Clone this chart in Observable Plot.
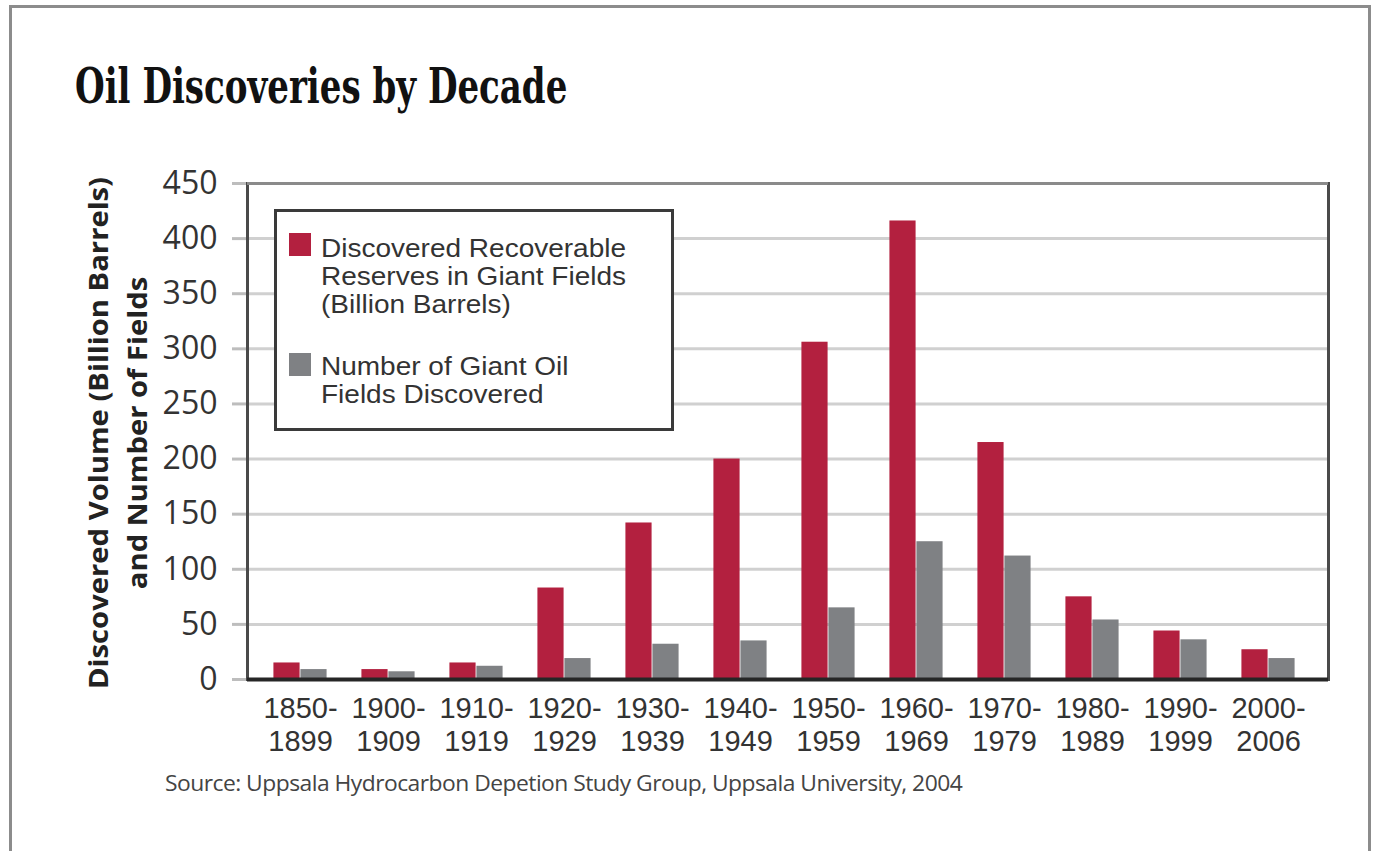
<!DOCTYPE html>
<html>
<head>
<meta charset="utf-8">
<script src="https://cdn.jsdelivr.net/npm/d3@7"></script>
<script src="https://cdn.jsdelivr.net/npm/@observablehq/plot@0.6"></script>
<style>
  html, body { margin: 0; padding: 0; background: #fff; overflow: hidden; }
  #page { position: relative; width: 1376px; height: 851px; overflow: hidden; background: #fff; }
  #border { position: absolute; left: 9px; top: 5px; width: 1362px; height: 900px; box-sizing: border-box; border: 3px solid #8c8c8c; }
  #title { position: absolute; left: 75px; top: 62px; white-space: nowrap; font-family: "DejaVu Serif Condensed", "DejaVu Serif", serif; font-weight: 700; font-stretch: condensed; font-size: 49px; line-height: 49px; color: #111; transform-origin: 0 0; }
  #chart { position: absolute; left: 0; top: 0; }
  #ytitle { position: absolute; left: 117px; top: 433px; white-space: nowrap; text-align: center; font-family: "Open Sans", sans-serif; font-weight: 700; font-size: 27px; line-height: 39px; color: #222; transform: translate(-50%, -50%) rotate(-90deg); }
  #legend { position: absolute; left: 274px; top: 209px; width: 400px; height: 222px; box-sizing: border-box; border: 3px solid #3a3a3a; background: #fff; }
  .sw { position: absolute; left: 12px; width: 22px; height: 23px; }
  .lt { position: absolute; left: 44px; white-space: nowrap; font-family: "Liberation Sans", Arial, sans-serif; font-size: 25px; line-height: 28px; color: #333; transform-origin: 0 0; }
  #caption { position: absolute; left: 165px; top: 771px; white-space: nowrap; font-family: "Open Sans", sans-serif; font-size: 22px; line-height: 22px; color: #444; letter-spacing: -0.5px; transform-origin: 0 0; }
</style>
</head>
<body>
<div id="page">
  <div id="border"></div>
  <div id="title"></div>
  <div id="chart"></div>
  <div id="ytitle"></div>
  <div id="legend"></div>
  <div id="caption"></div>
</div>
<script>
// ---------- data ----------
const decades = ["1850-1899", "1900-1909", "1910-1919", "1920-1929", "1930-1939", "1940-1949",
                 "1950-1959", "1960-1969", "1970-1979", "1980-1989", "1990-1999", "2000-2006"];
const reserves = [15, 9, 15, 83, 142, 200, 306, 416, 215, 75, 44, 27];   // billion barrels
const fields   = [9, 7, 12, 19, 32, 35, 65, 125, 112, 54, 36, 19];        // number of giant fields
const yTicks = [0, 50, 100, 150, 200, 250, 300, 350, 400, 450];
const seriesNames = [
  ["Discovered Recoverable", "Reserves in Giant Fields", "(Billion Barrels)"],
  ["Number of Giant Oil", "Fields Discovered"]
];
const titleText = "Oil Discoveries by Decade";
const yTitleLines = ["Discovered Volume (Billion Barrels)", "and Number of Fields"];
const captionText = "Source: Uppsala Hydrocarbon Depetion Study Group, Uppsala University, 2004";

// ---------- styles ----------
const colors = ["#b3203f", "#7f8184"];

const reserveRows = decades.map((d, i) => ({decade: d, value: reserves[i]}));
const fieldRows = decades.map((d, i) => ({decade: d, value: fields[i]}));

// layout
const xRange = [251, 1317];
const bw = (xRange[1] - xRange[0]) / decades.length;
const barW = 27;

const chart = Plot.plot({
  width: 1376,
  height: 851,
  marginLeft: 247,
  marginRight: 48,
  marginTop: 183,
  marginBottom: 172,
  style: {background: "transparent", fontFamily: "Open Sans, sans-serif", color: "#333", overflow: "visible"},
  x: {type: "band", domain: decades, range: xRange, padding: 0},
  y: {domain: [0, 450]},
  marks: [
    Plot.gridY(yTicks.filter(d => d > 0 && d < 450), {stroke: "#d0d0d0", strokeWidth: 3, strokeOpacity: 1}),
    Plot.barY(reserveRows, {x: "decade", y: "value", fill: colors[0], insetLeft: bw / 2 - barW, insetRight: bw / 2}),
    Plot.barY(fieldRows, {x: "decade", y: "value", fill: colors[1], insetLeft: bw / 2, insetRight: bw / 2 - barW}),
    Plot.axisY({ticks: yTicks, tickSize: 15, tickPadding: 15, stroke: "#bdbdbd", strokeWidth: 3, fill: "#333", fontSize: 32, label: null}),
    Plot.axisX({tickSize: 0, tickPadding: 15, fontSize: 29, fontFamily: "Liberation Sans, Arial, sans-serif",
                lineHeight: 1.13, fill: "#333", label: null,
                tickFormat: d => d.replace("-", "-\n")}),
    Plot.frame({stroke: "#4a4a4a", strokeWidth: 3}),
    Plot.ruleY([450], {stroke: "#8a8a8a", strokeWidth: 3}),
    Plot.ruleY([0], {stroke: "#262626", strokeWidth: 4})
  ]
});
document.getElementById("chart").appendChild(chart);

// texts
const title = document.getElementById("title");
title.textContent = titleText;
const yt = document.getElementById("ytitle");
yt.innerHTML = yTitleLines.map(s => `<div>${s}</div>`).join("");
const cap = document.getElementById("caption");
cap.textContent = captionText;

const legend = document.getElementById("legend");
const swTops = [21, 141];
const textTops = [22, 140];
seriesNames.forEach((lines, i) => {
  const sw = document.createElement("div");
  sw.className = "sw";
  sw.style.top = swTops[i] + "px";
  sw.style.background = colors[i];
  legend.appendChild(sw);
  const t = document.createElement("div");
  t.className = "lt";
  t.style.top = textTops[i] + "px";
  t.innerHTML = lines.join("<br>");
  legend.appendChild(t);
});

function fit() {
  const fitW = (el, w) => {
    el.style.transform = "";
    const r = el.offsetWidth;
    if (r > 0) el.style.transform = `scaleX(${w / r})`;
  };
  fitW(title, 492);
  fitW(cap, 797);
  const w = yt.offsetWidth;
  if (w > 0) yt.style.transform = `translate(-50%, -50%) rotate(-90deg) scaleX(${512 / w})`;
  const lts = legend.querySelectorAll(".lt");
  lts.forEach(e => e.style.transform = "");
  if (lts[0].offsetWidth > 0) {
    const s = Math.min(1.12, 320 / lts[0].offsetWidth);
    lts.forEach(e => e.style.transform = `scaleX(${s})`);
  }
}
fit();
if (document.fonts && document.fonts.ready) document.fonts.ready.then(fit);
</script>
</body>
</html>
